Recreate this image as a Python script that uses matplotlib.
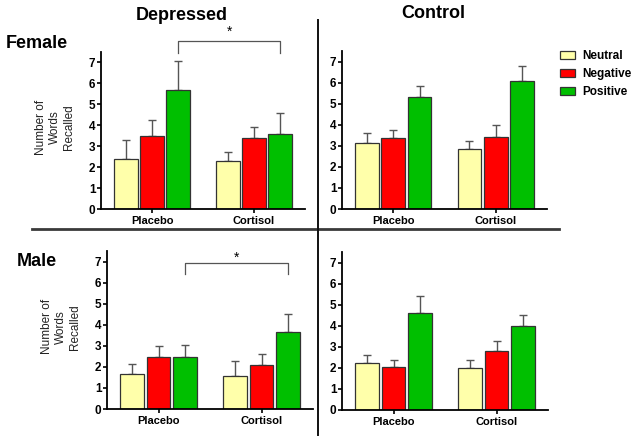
import matplotlib
matplotlib.use("Agg")
import matplotlib.pyplot as plt
import numpy as np
from matplotlib.patches import Patch
from matplotlib.lines import Line2D

plt.rcParams['font.family'] = ['Liberation Sans', 'DejaVu Sans']

categories = ["Placebo", "Cortisol"]
series = ["Neutral", "Negative", "Positive"]
colors = ["#FFFFAA", "#FF0000", "#00BF00"]

# values[panel][series] -> [Placebo, Cortisol]
fem_dep = {"Neutral": [2.40, 2.29], "Negative": [3.51, 3.41], "Positive": [5.70, 3.60]}
fem_dep_err = {"Neutral": [0.92, 0.44], "Negative": [0.72, 0.52], "Positive": [1.36, 1.00]}
fem_con = {"Neutral": [3.13, 2.83], "Negative": [3.35, 3.43], "Positive": [5.34, 6.08]}
fem_con_err = {"Neutral": [0.49, 0.38], "Negative": [0.41, 0.57], "Positive": [0.49, 0.70]}
mal_dep = {"Neutral": [1.66, 1.55], "Negative": [2.45, 2.10], "Positive": [2.45, 3.65]}
mal_dep_err = {"Neutral": [0.47, 0.74], "Negative": [0.52, 0.49], "Positive": [0.57, 0.85]}
mal_con = {"Neutral": [2.23, 1.99], "Negative": [2.04, 2.78], "Positive": [4.60, 4.00]}
mal_con_err = {"Neutral": [0.36, 0.38], "Negative": [0.33, 0.49], "Positive": [0.80, 0.53]}

W, H = 637, 443
fig = plt.figure(figsize=(W / 100, H / 100), dpi=100)

def rect(x0, x1, ytop, ybot):
    return [x0 / W, 1 - ybot / H, (x1 - x0) / W, (ybot - ytop) / H]

axes_specs = [
    (rect(101, 305, 52, 209), fem_dep, fem_dep_err, True),
    (rect(342, 547, 51, 209), fem_con, fem_con_err, False),
    (rect(107, 313, 251, 409), mal_dep, mal_dep_err, True),
    (rect(342, 548, 252, 410), mal_con, mal_con_err, False),
]

x = np.arange(len(categories))
bw = 0.23
step = 0.257
axs = []
for pos, vals, errs, ylab in axes_specs:
    ax = fig.add_axes(pos)
    axs.append(ax)
    for i, s in enumerate(series):
        xs = x + (i - 1) * step
        ax.bar(xs, vals[s], width=bw, color=colors[i], edgecolor="#333333",
               linewidth=0.9, zorder=2)
        ax.errorbar(xs, vals[s], yerr=[np.zeros(2), errs[s]], fmt="none",
                    ecolor="#555555", elinewidth=1.0, capsize=3, capthick=1.0, zorder=1)
    ax.set_xlim(-0.5, 1.5)
    ax.set_ylim(0, 7.5)
    ax.set_yticks(range(0, 8))
    ax.set_xticks(x)
    ax.set_xticklabels(categories, fontweight="bold", fontsize=8)
    for lab in ax.get_yticklabels():
        lab.set_fontweight("bold")
        lab.set_fontsize(8.5)
    ax.spines["top"].set_visible(False)
    ax.spines["right"].set_visible(False)
    ax.spines["left"].set_linewidth(1.3)
    ax.spines["bottom"].set_linewidth(1.3)
    ax.tick_params(axis="y", length=3, width=1.2, pad=1)
    ax.tick_params(axis="x", length=3, width=1.2, pad=2)
    ax.patch.set_alpha(0)
    if ylab:
        ax.set_ylabel("Number of\nWords\nRecalled", fontsize=8.5, color="#222222",
                      linespacing=1.2)
        bb = ax.get_position()
        ax.yaxis.set_label_coords(-26 / (bb.width * W), 0.52)

# significance brackets
def bracket(ax, y_top, y_leg, y_star):
    x0 = 0 + step
    x1 = 1 + step
    ax.plot([x0, x0, x1, x1], [y_leg, y_top, y_top, y_leg], color="#555555",
            linewidth=0.9, clip_on=False)
    ax.text((x0 + x1) / 2, y_star, "*", ha="center", va="center", fontsize=10)

bracket(axs[0], 8.03, 7.47, 8.45)
bracket(axs[2], 6.92, 6.40, 7.2)

# titles and labels
fig.text(182 / W, 1 - 15 / H, "Depressed", ha="center", va="center", fontsize=13, fontweight="bold")
fig.text(433 / W, 1 - 14 / H, "Control", ha="center", va="center", fontsize=13, fontweight="bold")
fig.text(6 / W, 1 - 43 / H, "Female", ha="left", va="center", fontsize=13, fontweight="bold")
fig.text(17 / W, 1 - 261 / H, "Male", ha="left", va="center", fontsize=13, fontweight="bold")

# divider lines
fig.add_artist(Line2D([32 / W, 559 / W], [1 - 228.7 / H] * 2, color="#3a3a3a", linewidth=2.0))
fig.add_artist(Line2D([317.7 / W] * 2, [1 - 20 / H, 1 - 435 / H], color="#111111", linewidth=1.4))

# legend
handles = [Patch(facecolor=c, edgecolor="#333333", linewidth=0.9) for c in colors]
fig.legend(handles, series, loc="upper left", bbox_to_anchor=(560 / W, 1 - 50 / H),
           frameon=False, prop={"weight": "bold", "size": 8.5}, handlelength=1.25,
           handleheight=0.7, labelspacing=0.5, handletextpad=0.65, borderaxespad=0,
           borderpad=0)

fig.savefig("out.png", dpi=100)
